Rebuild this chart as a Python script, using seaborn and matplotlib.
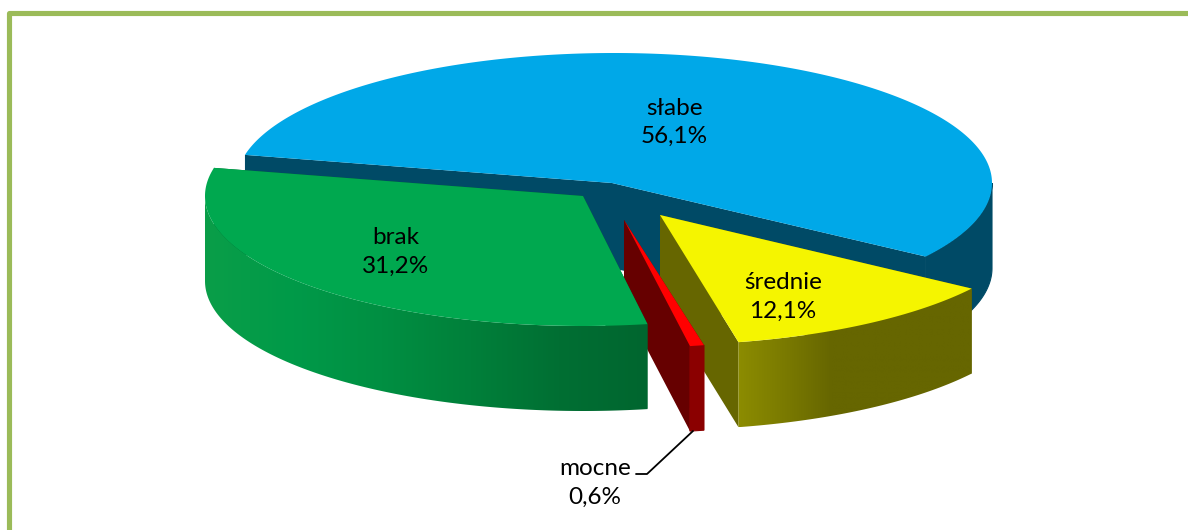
import numpy as np
import matplotlib
matplotlib.use("Agg")
import matplotlib.pyplot as plt
from matplotlib.patches import Polygon
import seaborn as sns

# --- data -------------------------------------------------------------
categories = ["słabe", "średnie", "mocne", "brak"]
shares = [56.1, 12.1, 0.6, 31.2]

# --- style / layout ---------------------------------------------------
top_colors = ["#00A8E8", "#F5F500", "#FF0000", "#00A84F"]
cut_colors = ["#004A66", "#666600", "#660000", "#00662F"]
wall_ramps = [["#004A66"],
              ["#8C8C00", "#7A7A00", "#666600", "#666600", "#666600", "#666600"],
              ["#8B0000"],
              ["#0A9E48", "#009A49", "#008F42", "#00803A", "#006F33", "#00662F"]]
apexes = [(612, 183), (660, 215), (624, 220), (583, 196)]
rim_shift = [(2, 0), (0, 0), (1.5, -2), (0, 0)]
RX, RY, DEPTH = 378, 130, 85
START = 167.5
BORDER = "#9BBB59"
label_pos = [(674, 122.5), (783, 297), (595, 483), (396, 252)]
leader = ([636, 647, 693], [474, 474, 431])

sns.set_theme(style="white")
plt.rcParams["font.family"] = ["Lato", "DejaVu Sans"]

fig = plt.figure(figsize=(11.88, 5.30), dpi=100, facecolor="white")
ax = fig.add_axes([0, 0, 1, 1])
ax.axis("off")

# border
ax.plot([8.5, 8.5, 1188], [530, 12.5, 12.5], color=BORDER, lw=3.7,
        solid_joinstyle="round", zorder=1)


def rim(i, a0, a1, n=None):
    n = n or max(2, int(abs(a1 - a0)) * 2 + 2)
    t = np.radians(np.linspace(a0, a1, n))
    cx = apexes[i][0] + rim_shift[i][0]
    cy = apexes[i][1] + rim_shift[i][1]
    return cx + RX * np.cos(t), cy - RY * np.sin(t)


def draw_slice(i, a0, a1, z):
    c = apexes[i]
    x, y = rim(i, a0, a1)
    # cut faces hanging from the two radii
    for xe, ye in ((x[0], y[0]), (x[-1], y[-1])):
        ax.fill([c[0], xe, xe, c[0]], [c[1], ye, ye + DEPTH, c[1] + DEPTH],
                color=cut_colors[i], lw=0, zorder=z)
    # outer wall: only the front part of the rim shows
    lo, hi = max(a1, -180), min(a0, 0)
    if hi > lo:
        wx, wy = rim(i, hi, lo, 200)
        outline = np.c_[np.r_[wx, wx[::-1]], np.r_[wy, wy[::-1] + DEPTH]]
        if len(wall_ramps[i]) == 1:
            ax.fill(outline[:, 0], outline[:, 1], color=wall_ramps[i][0], lw=0.8, zorder=z + 0.5)
        else:
            poly = Polygon(outline, closed=True, transform=ax.transData, fc="none", lw=0)
            ax.add_patch(poly)
            ramp = np.array(sns.blend_palette(wall_ramps[i], 256))[None, :, :]
            im = ax.imshow(ramp, extent=(wx.min(), wx.max(), wy.max() + DEPTH, wy.min()),
                           aspect="auto", interpolation="bilinear", zorder=z + 0.5)
            im.set_clip_path(poly)
    # top face
    ax.fill(np.r_[c[0], x], np.r_[c[1], y], color=top_colors[i], lw=0, zorder=z + 1)


ends = START - np.cumsum(np.r_[0, shares]) * 3.6
for z, i in enumerate((0, 1, 2, 3)):
    draw_slice(i, ends[i], ends[i + 1], 10 + z * 3)

ax.plot(*leader, color="black", lw=1.3, zorder=40)

for name, val, (tx, ty) in zip(categories, shares, label_pos):
    ax.text(tx, ty, f"{name}\n{val:.1f}%".replace(".", ","), ha="center", va="center",
            fontsize=17.5, color="black", linespacing=1.42, zorder=50)

ax.set_xlim(0, 1188)
ax.set_ylim(530, 0)

fig.savefig("out.png", dpi=100, facecolor="white")
